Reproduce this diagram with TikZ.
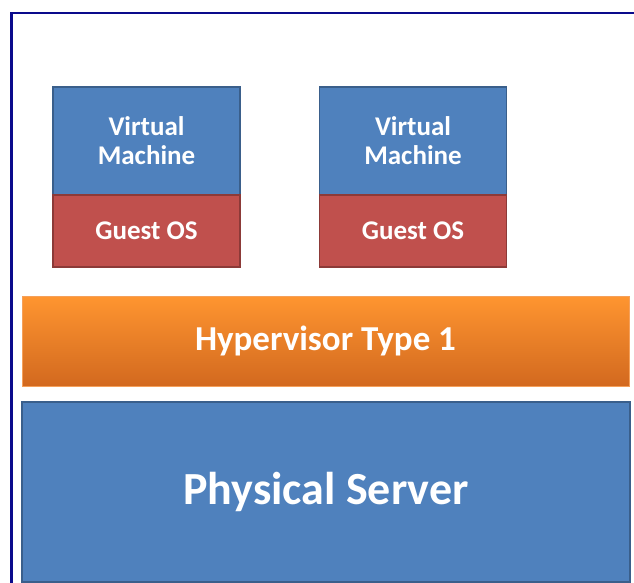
\documentclass[tikz,border=0pt]{standalone}
\usepackage{fontspec}
\setmainfont{Carlito}
\usetikzlibrary{positioning}

\definecolor{vmblue}{HTML}{4F81BD}
\definecolor{vmblueline}{HTML}{3A5F8B}
\definecolor{osred}{HTML}{C0504D}
\definecolor{osredline}{HTML}{8C3A38}
\definecolor{hvtop}{HTML}{FF9530}
\definecolor{hvbottom}{HTML}{D2691F}
\definecolor{hvline}{HTML}{F5A05A}
\definecolor{framenavy}{HTML}{0A0A8C}

\begin{document}
\begin{tikzpicture}[
  x=1pt, y=-1pt,
  node distance=0pt,
  layer/.style={draw, line width=1.6pt, outer sep=0pt, text=white, align=center, font=\bfseries},
  vmbox/.style={layer, fill=vmblue, draw=vmblueline, minimum width=187pt, minimum height=108pt, font=\bfseries\fontsize{27}{29}\selectfont},
  osbox/.style={layer, fill=osred, draw=osredline, minimum width=187pt, minimum height=72pt, font=\bfseries\fontsize{27}{29}\selectfont},
  hvbox/.style={layer, top color=hvtop, bottom color=hvbottom, draw=hvline, line width=1pt, minimum width=607pt, minimum height=90pt, font=\bfseries\fontsize{35}{40}\selectfont},
  serverbox/.style={layer, fill=vmblue, draw=vmblueline, minimum width=608pt, minimum height=180pt, font=\bfseries\fontsize{46}{52}\selectfont}
]
  \useasboundingbox (0,0) rectangle (634,583);

  % outer frame
  \draw[framenavy, line width=2.4pt] (11.5,583) -- (11.5,13) -- (634,13);

  % virtual machines
  \node[vmbox] (vmone) at (146.5,141) {Virtual\\Machine};
  \node[osbox, below=of vmone] (osone) {Guest OS};
  \node[vmbox] (vmtwo) at (413,141) {Virtual\\Machine};
  \node[osbox, below=of vmtwo] (ostwo) {Guest OS};

  % hypervisor and hardware
  \node[hvbox] (hypervisor) at (325.5,341) {Hypervisor Type 1};
  \node[serverbox] (server) at (326,492) {Physical Server};
\end{tikzpicture}
\end{document}
